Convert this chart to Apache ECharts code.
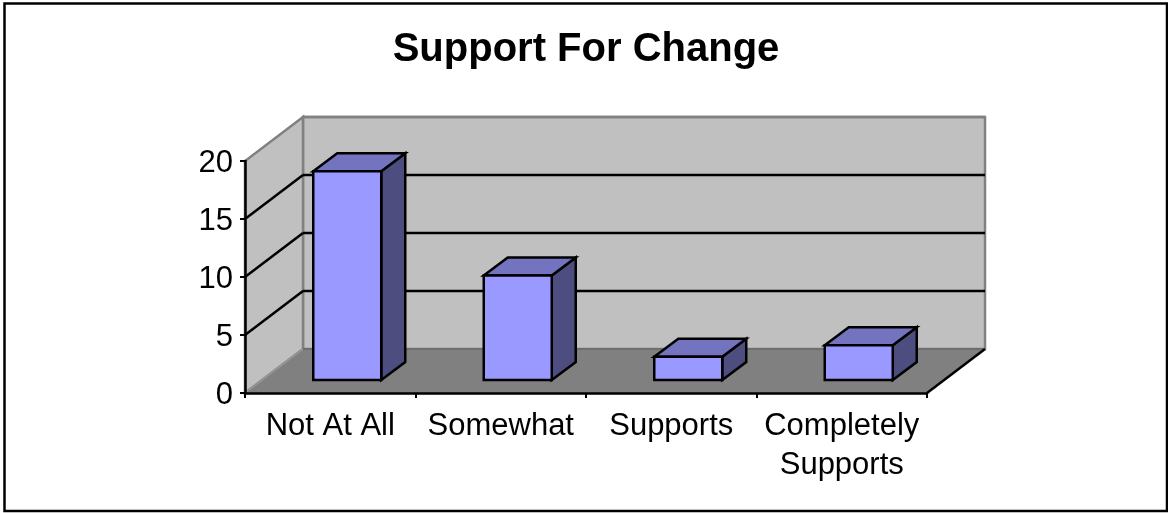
<!DOCTYPE html>
<html>
<head>
<meta charset="utf-8">
<style>html,body{margin:0;padding:0;background:#fff}#c{width:1168px;height:513px}</style>
<script src="https://cdn.jsdelivr.net/npm/echarts@6/dist/echarts.min.js"></script>
</head>
<body>
<div id="c"></div>
<script>
const titleText = "Support For Change";
const categories = ["Not At All", "Somewhat", "Supports", "Completely\nSupports"];
const supportValues = [18, 9, 2, 3];
const gridValues = [5, 10, 15, 20];

const DX = 58, DY = -44;        // wall depth in pixels
const BAR_W = 68;
const BAR_FX = 17, BAR_FY = -13; // bar front offset into floor
const BAR_DX = 24, BAR_DY = -18; // bar depth

const chart = echarts.init(document.getElementById('c'), null, {renderer: 'canvas'});

function poly(points, fill, stroke, lw) {
  return {type: 'polygon', shape: {points}, style: {fill, stroke: stroke || 'none', lineWidth: lw || 0, lineJoin: 'miter'}};
}
function seg(a, b, stroke, lw) {
  return {type: 'line', shape: {x1: a[0], y1: a[1], x2: b[0], y2: b[1]}, style: {stroke, lineWidth: lw}};
}

function renderWalls(params, api) {
  const c = params.coordSys;
  const x0 = c.x, x1 = c.x + c.width, yb = c.y + c.height, yt = c.y;
  const g = '#808080';
  return {type: 'group', children: [
    poly([[x0 + DX, yt + DY], [x1 + DX, yt + DY], [x1 + DX, yb + DY], [x0 + DX, yb + DY]], '#C0C0C0', g, 2.5),
    poly([[x0, yb], [x0 + DX, yb + DY], [x0 + DX, yt + DY], [x0, yt]], '#C0C0C0', g, 2.5),
    poly([[x0, yb], [x1, yb], [x1 + DX, yb + DY], [x0 + DX, yb + DY]], '#808080'),
    seg([x0, yb], [x0 + DX, yb + DY], '#999999', 1.5),
    seg([x0 + DX, yb + DY], [x1 + DX, yb + DY], '#6E6E6E', 2),
    seg([x1, yb], [x1 + DX, yb + DY], '#000', 2.5)
  ]};
}

function renderGrid(params, api) {
  const c = params.coordSys;
  const p = api.coord([0, api.value(0)]);
  const y = p[1], x0 = c.x, x1 = c.x + c.width;
  const children = [seg([x0 + DX, y + DY], [x1 + DX, y + DY], api.value(0) === 20 ? '#808080' : '#000', 2.5)];
  if (api.value(0) !== 20) children.push(seg([x0, y], [x0 + DX, y + DY], '#000', 2.5));
  return {type: 'group', children};
}

function renderBar(params, api) {
  const cx = api.coord([api.value(0), 0])[0];
  const y0 = api.coord([api.value(0), 0])[1] + BAR_FY;
  const y1 = api.coord([api.value(0), api.value(1)])[1] + BAR_FY;
  const l = cx - BAR_W / 2 + BAR_FX, r = l + BAR_W;
  const k = '#000', lw = 2.5;
  return {type: 'group', children: [
    poly([[r, y1], [r + BAR_DX, y1 + BAR_DY], [r + BAR_DX, y0 + BAR_DY], [r, y0]], '#4D4D80', k, lw),
    poly([[l, y1], [l + BAR_DX, y1 + BAR_DY], [r + BAR_DX, y1 + BAR_DY], [r, y1]], '#7373BF', k, lw),
    poly([[l, y1], [r, y1], [r, y0], [l, y0]], '#9999FF', k, lw)
  ]};
}

chart.setOption({
  animation: false,
  backgroundColor: '#fff',
  title: {
    text: titleText, left: 586, top: 30, textAlign: 'center', padding: 0,
    textStyle: {fontFamily: 'Liberation Sans', fontWeight: 'bold', fontSize: 40, color: '#000'}
  },
  graphic: [{
    type: 'rect', shape: {x: 4.5, y: 3.5, width: 1162.5, height: 507.5},
    style: {fill: 'none', stroke: '#000', lineWidth: 2.5}, z: -1
  }],
  grid: {left: 245, right: 241, top: 161, bottom: 120},
  xAxis: {
    type: 'category', data: categories, z: 5,
    axisLine: {show: true, lineStyle: {color: '#000', width: 2.5}},
    axisTick: {show: true, alignWithLabel: false, length: 5, lineStyle: {color: '#000', width: 2}},
    axisLabel: {fontFamily: 'Liberation Sans', fontSize: 31, color: '#000', margin: 14, lineHeight: 39, interval: 0},
    splitLine: {show: false}
  },
  yAxis: {
    type: 'value', min: 0, max: 20, interval: 5, z: 5,
    axisLine: {show: true, lineStyle: {color: '#000', width: 2.5}},
    axisTick: {show: true, length: 5, lineStyle: {color: '#000', width: 2}},
    axisLabel: {
      color: '#000', margin: 12, formatter: '{n|{value}}',
      rich: {n: {fontFamily: 'Liberation Sans', fontSize: 31, color: '#000', padding: [4, 0, 0, 0]}}
    },
    splitLine: {show: false}
  },
  series: [
    {type: 'custom', z: 1, silent: true, clip: false, renderItem: renderWalls, data: [[0]], encode: {x: 0}},
    {type: 'custom', z: 2, silent: true, clip: false, renderItem: renderGrid, data: gridValues.map(v => [v]), encode: {y: 0}},
    {type: 'custom', z: 3, clip: false, renderItem: renderBar, data: supportValues.map((v, i) => [i, v]), encode: {x: 0, y: 1}}
  ]
});
</script>
</body>
</html>
